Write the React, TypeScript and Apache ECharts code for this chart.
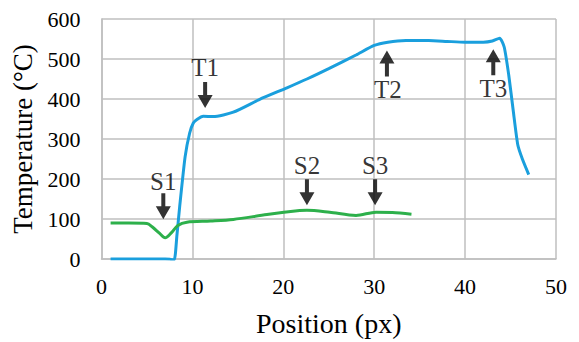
import React, { useEffect, useRef } from "react";
import * as echarts from "echarts";

const blueX = [1, 3, 5, 7, 7.6, 8.0, 8.3, 8.6, 9.2, 9.7, 10.1, 10.5, 11.2, 12.3, 14.5, 17.4, 20.4, 22.6, 25, 28, 30, 31.5, 33.5, 36, 38, 40, 42, 43, 43.8, 44.3, 44.8, 45.3, 45.8, 46.3, 47];
const blueY = [0, 0, 0, 0, -1, -2, 60, 131, 256, 315, 340, 349, 357, 356, 367, 399, 428, 450, 476, 510, 534, 542, 546, 546, 544, 542, 542, 545, 552, 530, 460, 370, 285, 250, 211];
const greenX = [1, 3, 5, 5.6, 6.4, 7.0, 7.7, 8.4, 9.4, 12, 14.5, 18.2, 21.8, 22.6, 25.1, 28, 30.2, 32, 34.1];
const greenY = [90, 90, 89, 80, 64, 53, 66, 84, 92, 95, 99, 111, 121, 122, 117, 109, 117, 116, 112];

const labelNames = ["T1", "S1", "S2", "S3", "T2", "T3"];
const labelX = [11.4, 6.8, 22.6, 30.1, 31.5, 43.1];
const labelY = [480, 194, 233, 233, 425, 427];
const arrowX = [11.4, 6.8, 22.6, 30.1, 31.4, 43.1];
const arrowY = [410, 132, 167, 167, 489, 492];
const arrowDown = [true, true, true, true, false, false];

const xTicks = [0, 10, 20, 30, 40, 50];
const yTicks = [0, 100, 200, 300, 400, 500, 600];

const FONT = "'Liberation Serif', 'DejaVu Serif', 'Times New Roman', serif";
const ARROW = "path://M7.5,0 L15,13 L9.5,13 L9.5,26 L5.5,26 L5.5,13 L0,13 Z";

export default function App() {
  const ref = useRef<HTMLDivElement>(null);
  useEffect(() => {
    if (!ref.current) return;
    const chart = echarts.init(ref.current, undefined, { renderer: "svg" });
    const gridColor = "#bfbfbf";
    chart.setOption({
      animation: false,
      backgroundColor: "#ffffff",
      grid: { left: 101.5, right: 23, top: 19, bottom: 82.5, containLabel: false },
      xAxis: {
        type: "value",
        min: xTicks[0],
        max: xTicks[xTicks.length - 1],
        interval: 10,
        name: "Position (px)",
        nameLocation: "middle",
        nameGap: 50,
        nameTextStyle: { fontFamily: FONT, fontSize: 28, color: "#000" },
        axisLine: { lineStyle: { color: gridColor, width: 1.5 } },
        axisTick: { show: false },
        axisLabel: { fontFamily: FONT, fontSize: 22, color: "#000", margin: 16 },
        splitLine: { lineStyle: { color: gridColor, width: 1.5 } },
      },
      yAxis: {
        type: "value",
        min: yTicks[0],
        max: yTicks[yTicks.length - 1],
        interval: 100,
        name: "Temperature (°C)",
        nameLocation: "middle",
        nameGap: 62,
        nameTextStyle: { fontFamily: FONT, fontSize: 27, color: "#000" },
        axisLine: { show: true, lineStyle: { color: gridColor, width: 1.5 } },
        axisTick: { show: false },
        axisLabel: { fontFamily: FONT, fontSize: 22, color: "#000", margin: 21 },
        splitLine: { lineStyle: { color: gridColor, width: 1.5 } },
      },
      series: [
        {
          type: "line",
          data: blueX.map((x, i) => [x, blueY[i]]),
          symbol: "none",
          smooth: 0.2,
          lineStyle: { color: "#1A9FDD", width: 3 },
          z: 3,
        },
        {
          type: "line",
          data: greenX.map((x, i) => [x, greenY[i]]),
          symbol: "none",
          smooth: 0.3,
          lineStyle: { color: "#2DB04B", width: 3 },
          z: 3,
        },
        {
          type: "scatter",
          data: arrowX.map((x, i) => ({ value: [x, arrowY[i]], symbolRotate: arrowDown[i] ? 180 : 0 })),
          symbol: ARROW,
          symbolSize: [15, 26],
          itemStyle: { color: "#000" },
          z: 4,
        },
        {
          type: "scatter",
          data: labelX.map((x, i) => ({ value: [x, labelY[i]], name: labelNames[i] })),
          symbolSize: 0,
          label: {
            show: true,
            position: "inside",
            formatter: (p: any) => p.name,
            fontFamily: FONT,
            fontSize: 25,
            color: "#000",
          },
          z: 5,
        },
      ],
    });
    return () => chart.dispose();
  }, []);
  return <div ref={ref} style={{ width: 579, height: 342, position: "absolute", left: 0, top: 0 }} />;
}
